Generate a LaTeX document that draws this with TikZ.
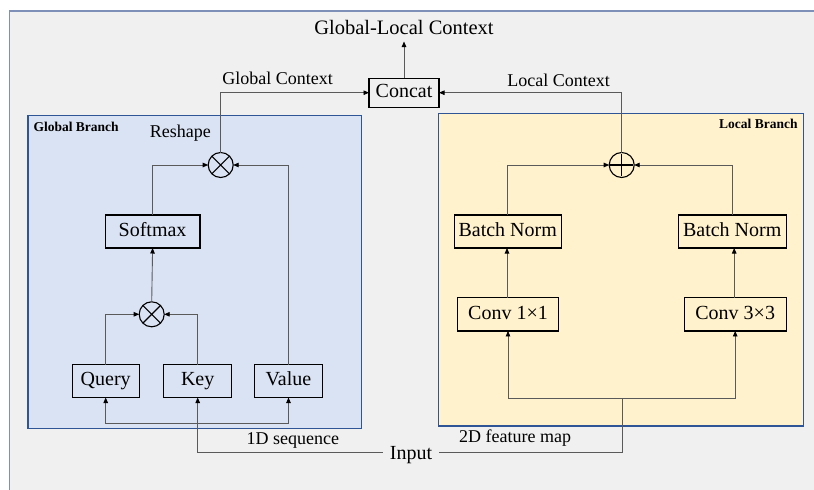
\documentclass[tikz,border=0pt]{standalone}
\usepackage{fontspec}
\setmainfont{Liberation Serif}
\usetikzlibrary{arrows.meta}
\definecolor{pagebg}{HTML}{F0F0F0}
\definecolor{framecol}{HTML}{7F90B8}
\definecolor{globalfill}{HTML}{DAE3F3}
\definecolor{localfill}{HTML}{FFF2CC}
\definecolor{branchborder}{HTML}{2F5597}
\definecolor{linegray}{HTML}{5A5A5A}
\begin{document}
\begin{tikzpicture}[x=1pt,y=-1pt,
  box/.style={draw=black, line width=1.1pt, inner sep=0pt, outer sep=0pt,
    font=\fontsize{20}{24}\selectfont, text height=13.5pt, text depth=4pt,
    minimum height=33pt},
  opcirc/.style={draw=black, line width=1.1pt, circle, minimum size=25pt,
    inner sep=0pt, outer sep=0pt},
  conn/.style={draw=linegray, line width=0.9pt},
  arr/.style={conn, -{Triangle[length=5.5pt,width=4.5pt,color=black]}},
  lbl/.style={inner sep=0pt, font=\fontsize{18}{22}\selectfont},
  branchlbl/.style={inner sep=0pt, font=\fontsize{13.5}{16}\selectfont\bfseries},
  branch/.style={draw=branchborder, line width=1.2pt}]

\useasboundingbox (0,0) rectangle (814,490);
\clip (0,0) rectangle (814,490);
\fill[white] (0,0) rectangle (814,490);
% outer panel
\draw[fill=pagebg, draw=framecol, line width=1.2pt] (9.5,11) rectangle (830,510);

% branch panels
\draw[branch, fill=globalfill] (28,115.7) rectangle (361.7,428.3);
\draw[branch, fill=localfill] (438.7,113.3) rectangle (803.3,426);
\node[branchlbl, anchor=base west] (gbl) at (33.3,131) {Global Branch};
\node[branchlbl, anchor=base east] (lbl) at (797.7,128.3) {Local Branch};

% title and concat
\node[inner sep=0pt, font=\fontsize{20.5}{24}\selectfont] (title) at (404,27.8) {Global-Local Context};
\node[box, minimum width=70pt, minimum height=29pt] (concat) at (404,92.7) {Concat};
\coordinate (outtip) at (404,41.5);
\draw[arr] (concat.north) -- (outtip);

% global branch nodes
\node[box, minimum width=94.7pt] (softmax) at (152.6,231.5) {Softmax};
\node[box, minimum width=67.3pt] (query) at (105.7,381) {Query};
\node[box, minimum width=68pt] (key) at (197.7,381) {Key};
\node[box, minimum width=67.6pt] (value) at (288.5,381) {Value};
\node[opcirc] (mul1) at (220.7,165) {};
\node[opcirc] (mul2) at (151.7,314.3) {};
\draw[line width=1.1pt] (mul1.north east) -- (mul1.south west) (mul1.north west) -- (mul1.south east);
\draw[line width=1.1pt] (mul2.north east) -- (mul2.south west) (mul2.north west) -- (mul2.south east);

% local branch nodes
\node[box, minimum width=107.3pt] (bnl) at (507.7,231.5) {Batch Norm};
\node[box, minimum width=107.7pt] (bnr) at (732.2,231.5) {Batch Norm};
\node[box, minimum width=101.4pt, minimum height=33.3pt] (conv1) at (508,314.3) {Conv 1×1};
\node[box, minimum width=101.7pt, minimum height=33.3pt] (conv3) at (735.2,314.3) {Conv 3×3};
\node[opcirc] (add) at (621.7,165) {};
\draw[line width=1.1pt] ([yshift=-1.2pt]add.north) -- ([yshift=1.2pt]add.south)
  ([xshift=1.2pt]add.west) -- ([xshift=-1.2pt]add.east);

% labels
\node[lbl] (gctx) at (277.5,78.7) {Global Context};
\node[lbl] (lctx) at (558.7,80.8) {Local Context};
\node[lbl, anchor=base] (reshape) at (180.3,137.3) {Reshape};
\node[lbl, anchor=base] (seq) at (292.8,444) {1D sequence};
\node[lbl, anchor=base] (fmap) at (515.2,442.7) {2D feature map};
\node[anchor=base, inner sep=7pt, font=\fontsize{20}{24}\selectfont] (input) at (411,459.3) {Input};

% global branch connectors
\draw[arr] (mul1.north) |- (concat.west);
\draw[arr] (softmax.north) |- (mul1.west);
\draw[arr] (value.north) |- (mul1.east);
\draw[arr] (mul2.north) -- (softmax.south);
\draw[arr] (query.north) |- (mul2.west);
\draw[arr] (key.north) |- (mul2.east);
\coordinate (qvrow) at (0,423.3);
\draw[arr] ([yshift=2.5pt]input.west) -| (key.south);
\draw[arr] (key.south |- qvrow) -| (query.south);
\draw[arr] (key.south |- qvrow) -| (value.south);

% local branch connectors
\draw[arr] (add.north) |- (concat.east);
\draw[arr] (bnl.north) |- (add.west);
\draw[arr] (bnr.north) |- (add.east);
\draw[arr] ([xshift=-1pt]conv1.north) -- ([xshift=-1pt]conv1.north |- bnl.south);
\draw[arr] ([xshift=-1pt]conv3.north) -- ([xshift=-1pt]conv3.north |- bnr.south);
\coordinate (lsplit) at (622.3,398.3);
\draw[conn] ([yshift=2.5pt]input.east) -| (lsplit);
\draw[arr] (lsplit) -| (conv1.south);
\draw[arr] (lsplit) -| (conv3.south);
\end{tikzpicture}
\end{document}
